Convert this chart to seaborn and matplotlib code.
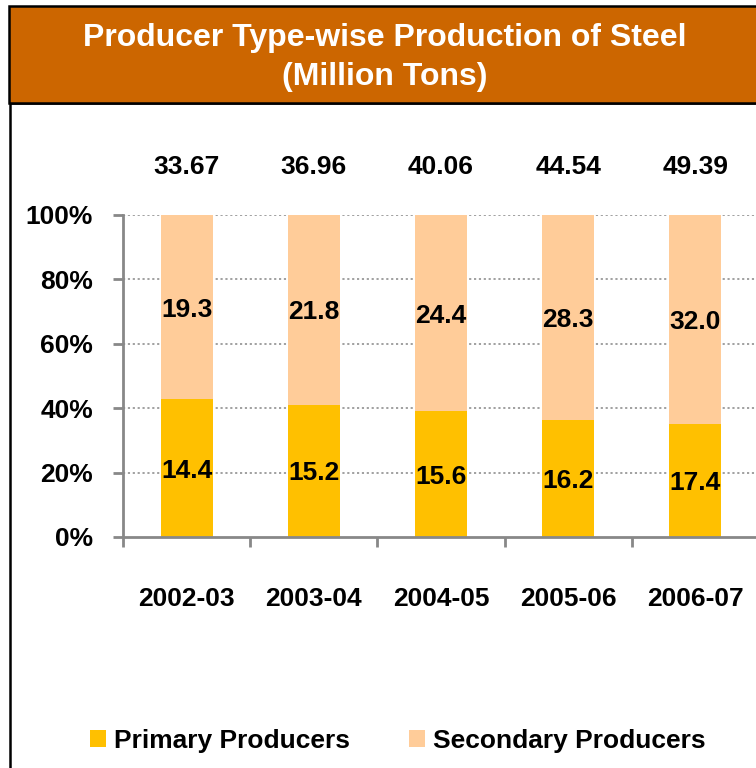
import matplotlib
matplotlib.use("Agg")
import matplotlib.pyplot as plt
import seaborn as sns
import pandas as pd
import numpy as np
from matplotlib import font_manager
from matplotlib.patches import Rectangle, Patch
from matplotlib.ticker import FixedLocator, PercentFormatter

years = ["2002-03", "2003-04", "2004-05", "2005-06", "2006-07"]
primary = [14.4, 15.2, 15.6, 16.2, 17.4]
secondary = [19.3, 21.8, 24.4, 28.3, 32.0]
totals = ["33.67", "36.96", "40.06", "44.54", "49.39"]
y_ticks = [0, 20, 40, 60, 80, 100]
series_names = ["Primary Producers", "Secondary Producers"]

PRIMARY_C = "#FFC000"
SECONDARY_C = "#FFCC99"
BANNER_C = "#CC6600"

installed = {f.name for f in font_manager.fontManager.ttflist}
if "Liberation Sans Narrow" in installed:
    LBL_FONT = ["Liberation Sans Narrow", "DejaVu Sans"]
    FS = 22
else:
    LBL_FONT = ["Liberation Sans", "DejaVu Sans"]
    FS = 19
TITLE_FONT = ["Liberation Sans", "DejaVu Sans"]

sns.set_theme(style="white")
plt.rcParams["font.family"] = LBL_FONT

df = pd.DataFrame({"year": years, "primary": primary, "secondary": secondary})
df["p_share"] = df["primary"] / (df["primary"] + df["secondary"]) * 100
df["s_share"] = df["secondary"] / (df["primary"] + df["secondary"]) * 100
df["stack_top"] = df["p_share"] + df["s_share"]

W, H = 756, 768
fig = plt.figure(figsize=(W / 100, H / 100), dpi=100)

# chart frame
fig.patches.append(Rectangle((10 / W, -0.05), 1.1, (H - 103) / H + 0.05,
                             transform=fig.transFigure, facecolor="white",
                             edgecolor="black", linewidth=1.8, zorder=-5))
# title banner
fig.patches.append(Rectangle((9 / W, (H - 103) / H), 1.1, 97 / H,
                             transform=fig.transFigure, facecolor=BANNER_C,
                             edgecolor="black", linewidth=1.8, zorder=-4))
fig.text(385 / W, 1 - 38 / H, "Producer Type-wise Production of Steel",
         ha="center", va="center", color="white", fontsize=23,
         fontweight="bold", family=TITLE_FONT)
fig.text(385 / W, 1 - 77 / H, "(Million Tons)",
         ha="center", va="center", color="white", fontsize=23,
         fontweight="bold", family=TITLE_FONT)

ax = fig.add_axes([123 / W, (H - 537) / H, 636 / W, 322 / H])
ax.set_zorder(2)
ax.set_facecolor("none")

sns.barplot(data=df, x="year", y="stack_top", color=SECONDARY_C, width=0.41,
            linewidth=0, saturation=1, ax=ax, zorder=2)
sns.barplot(data=df, x="year", y="p_share", color=PRIMARY_C, width=0.41,
            linewidth=0, saturation=1, ax=ax, zorder=3)

ax.set_xlim(-0.5, len(years) - 0.5)
ax.set_ylim(0, 100)
ax.set_yticks(y_ticks)
ax.yaxis.set_major_formatter(PercentFormatter(decimals=0))
ax.set_xlabel("")
ax.set_ylabel("")

for g in y_ticks[1:]:
    ax.axhline(g, color="#999999", linestyle=(0, (1.2, 1.5)), linewidth=1.3, zorder=1)

for s in ["top", "right"]:
    ax.spines[s].set_visible(False)
for s in ["left", "bottom"]:
    ax.spines[s].set_color("#888888")
    ax.spines[s].set_linewidth(2)
    ax.spines[s].set_zorder(4)

ax.tick_params(axis="y", which="major", direction="out", length=7.5, width=2,
               color="#888888", pad=14, labelsize=FS, left=True)
ax.tick_params(axis="x", which="major", length=0, pad=36, labelsize=FS)
ax.xaxis.set_minor_locator(FixedLocator(np.arange(-0.5, len(years), 1.0)))
ax.tick_params(axis="x", which="minor", direction="out", length=7.5, width=2,
               color="#888888", bottom=True)
for lbl in ax.get_xticklabels() + ax.get_yticklabels():
    lbl.set_fontweight("bold")
    lbl.set_color("black")

for i in range(len(years)):
    p = df["p_share"][i]
    ax.text(i, p / 2, f"{primary[i]:.1f}", ha="center", va="center_baseline",
            fontsize=FS, fontweight="bold", color="black", zorder=5)
    ax.text(i, p + df["s_share"][i] / 2, f"{secondary[i]:.1f}", ha="center",
            va="center_baseline", fontsize=FS, fontweight="bold", color="black", zorder=5)
    ax.annotate(totals[i], xy=(i, 100), xytext=(0, 36), textcoords="offset points",
                ha="center", va="center_baseline", fontsize=FS, fontweight="bold",
                color="black", annotation_clip=False)

handles = [Patch(facecolor=PRIMARY_C, edgecolor="none"),
           Patch(facecolor=SECONDARY_C, edgecolor="none")]
leg = fig.legend(handles, series_names, loc="center", bbox_to_anchor=(398 / W, 1 - 741 / H),
                 ncol=2, frameon=False, handlelength=0.6, handleheight=0.6,
                 handletextpad=0.3, columnspacing=2.25,
                 prop={"family": LBL_FONT, "weight": "bold", "size": FS})
for t in leg.get_texts():
    t.set_color("black")

fig.savefig("out.png", dpi=100)
